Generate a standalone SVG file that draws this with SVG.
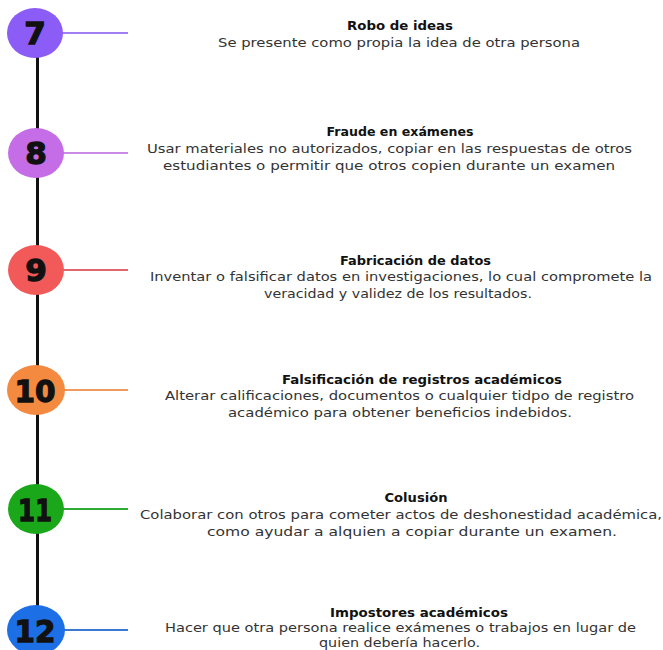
<svg xmlns="http://www.w3.org/2000/svg" width="663" height="650" viewBox="0 0 663 650">
<style>
.num{font-family:"DejaVu Sans",sans-serif;font-weight:bold;font-size:31px;fill:#111;stroke:#111;stroke-width:1.3;text-anchor:middle}
.t{font-family:"DejaVu Sans",sans-serif;font-weight:bold;font-size:11.5px;fill:#111;text-anchor:middle}
.d{font-family:"DejaVu Sans",sans-serif;font-size:12.5px;fill:#333;text-anchor:middle}
.c{stroke-width:2.2;fill:none}
</style>
<rect width="663" height="650" fill="#fff"/>
<g id="connectors">
<line x1="37.5" y1="55" x2="37.5" y2="607" stroke="#111" stroke-width="3"/>
<line class="c" x1="60" y1="33" x2="128" y2="33" stroke="#a27ef5"/>
<line class="c" x1="60" y1="153" x2="128" y2="153" stroke="#c98be6"/>
<line class="c" x1="60" y1="270" x2="128" y2="270" stroke="#e3666c"/>
<line class="c" x1="60" y1="390" x2="128" y2="390" stroke="#ef9a5e"/>
<line class="c" x1="60" y1="509" x2="128" y2="509" stroke="#2eab34"/>
<line class="c" x1="60" y1="630" x2="128" y2="630" stroke="#3a79cf"/>
</g>
<g id="n7">
<ellipse cx="35" cy="33" rx="28" ry="25" fill="#8b5cf6"/>
<text class="num" x="35" y="44">7</text>
<text class="t" x="400" y="30" textLength="106" lengthAdjust="spacingAndGlyphs">Robo de ideas</text>
<text class="d" x="399" y="47" textLength="362" lengthAdjust="spacingAndGlyphs">Se presente como propia la idea de otra persona</text>
</g>
<g id="n8">
<ellipse cx="36" cy="153" rx="28" ry="25" fill="#c46de6"/>
<text class="num" x="36" y="164">8</text>
<text class="t" x="400" y="136" textLength="147" lengthAdjust="spacingAndGlyphs">Fraude en exámenes</text>
<text class="d" x="389.5" y="153" textLength="485" lengthAdjust="spacingAndGlyphs">Usar materiales no autorizados, copiar en las respuestas de otros</text>
<text class="d" x="389" y="170" textLength="452" lengthAdjust="spacingAndGlyphs">estudiantes o permitir que otros copien durante un examen</text>
</g>
<g id="n9">
<ellipse cx="36" cy="270" rx="28" ry="25" fill="#f25a5a"/>
<text class="num" x="36" y="281">9</text>
<text class="t" x="415.5" y="265" textLength="151" lengthAdjust="spacingAndGlyphs">Fabricación de datos</text>
<text class="d" x="401" y="281" textLength="502" lengthAdjust="spacingAndGlyphs">Inventar o falsificar datos en investigaciones, lo cual compromete la</text>
<text class="d" x="398" y="298" textLength="268" lengthAdjust="spacingAndGlyphs">veracidad y validez de los resultados.</text>
</g>
<g id="n10">
<ellipse cx="36" cy="390" rx="29" ry="25" fill="#f38a3f"/>
<text class="num" x="35" y="401.5" textLength="41" lengthAdjust="spacingAndGlyphs">10</text>
<text class="t" x="422" y="384" textLength="280" lengthAdjust="spacingAndGlyphs">Falsificación de registros académicos</text>
<text class="d" x="399.5" y="400" textLength="469" lengthAdjust="spacingAndGlyphs">Alterar calificaciones, documentos o cualquier tidpo de registro</text>
<text class="d" x="400" y="417" textLength="344" lengthAdjust="spacingAndGlyphs">académico para obtener beneficios indebidos.</text>
</g>
<g id="n11">
<ellipse cx="36" cy="509" rx="28" ry="25" fill="#1aa81a"/>
<text class="num" x="35" y="520.5" textLength="34" lengthAdjust="spacingAndGlyphs">11</text>
<text class="t" x="416" y="502" textLength="63" lengthAdjust="spacingAndGlyphs">Colusión</text>
<text class="d" x="401" y="519" textLength="522" lengthAdjust="spacingAndGlyphs">Colaborar con otros para cometer actos de deshonestidad académica,</text>
<text class="d" x="412" y="536" textLength="410" lengthAdjust="spacingAndGlyphs">como ayudar a alquien a copiar durante un examen.</text>
</g>
<g id="n12">
<ellipse cx="36" cy="630" rx="29" ry="25" fill="#1d6fe6"/>
<text class="num" x="35" y="641.5" textLength="41" lengthAdjust="spacingAndGlyphs">12</text>
<text class="t" x="419" y="617" textLength="178" lengthAdjust="spacingAndGlyphs">Impostores académicos</text>
<text class="d" x="400.5" y="632" textLength="471" lengthAdjust="spacingAndGlyphs">Hacer que otra persona realice exámenes o trabajos en lugar de</text>
<text class="d" x="399.5" y="647" textLength="161" lengthAdjust="spacingAndGlyphs">quien debería hacerlo.</text>
</g>
</svg>
